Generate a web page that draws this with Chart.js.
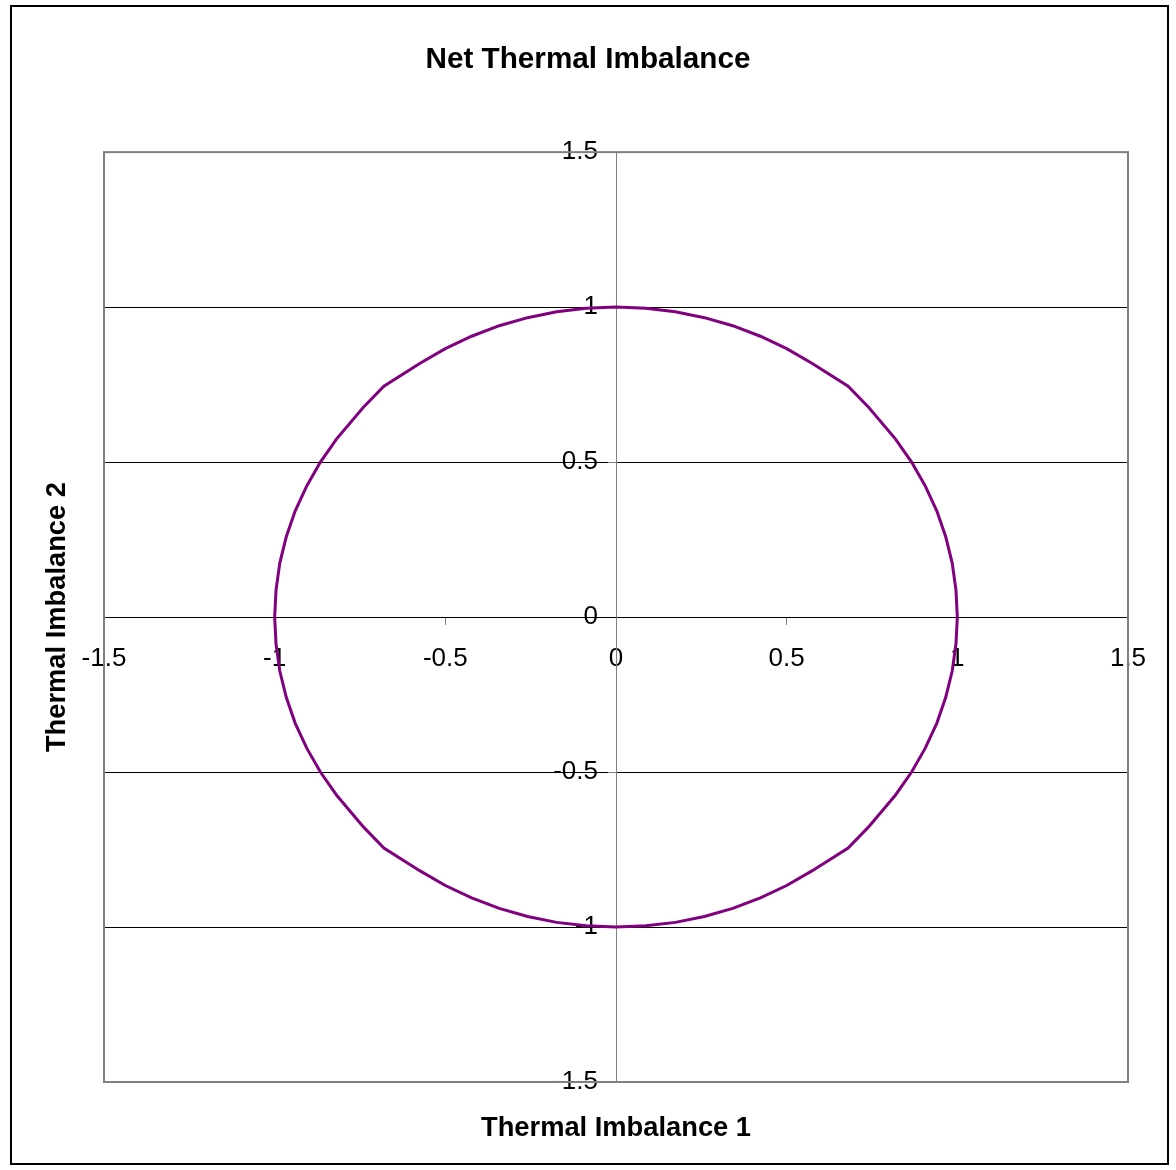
<!DOCTYPE html>
<html>
<head>
<meta charset="utf-8">
<script src="https://cdn.jsdelivr.net/npm/chart.js@4.4.1/dist/chart.umd.min.js"></script>
<style>
  html, body { margin: 0; padding: 0; background: #fff; }
  canvas { display: block; }
</style>
</head>
<body>
<canvas id="chart" width="1176" height="1170"></canvas>
<script>
const TITLE = "Net Thermal Imbalance";
const X_TITLE = "Thermal Imbalance 1";
const Y_TITLE = "Thermal Imbalance 2";

// tick values on both axes
const tickValues = [-1.5, -1, -0.5, 0, 0.5, 1, 1.5];

// points, going clockwise from the top
const xValues = [0, 0.087, 0.174, 0.259, 0.342, 0.423, 0.5, 0.574, 0.68, 0.74, 0.819, 0.866, 0.906, 0.94, 0.966, 0.985, 0.996, 1,
  0.996, 0.985, 0.966, 0.94, 0.906, 0.866, 0.819, 0.74, 0.68, 0.574, 0.5, 0.423, 0.342, 0.259, 0.174, 0.087, 0,
  -0.087, -0.174, -0.259, -0.342, -0.423, -0.5, -0.574, -0.68, -0.74, -0.819, -0.866, -0.906, -0.94, -0.966, -0.985, -0.996, -1,
  -0.996, -0.985, -0.966, -0.94, -0.906, -0.866, -0.819, -0.74, -0.68, -0.574, -0.5, -0.423, -0.342, -0.259, -0.174, -0.087, 0];
const yValues = [1, 0.996, 0.985, 0.966, 0.94, 0.906, 0.866, 0.819, 0.745, 0.677, 0.574, 0.5, 0.423, 0.342, 0.259, 0.174, 0.087, 0,
  -0.087, -0.174, -0.259, -0.342, -0.423, -0.5, -0.574, -0.677, -0.745, -0.819, -0.866, -0.906, -0.94, -0.966, -0.985, -0.996, -1,
  -0.996, -0.985, -0.966, -0.94, -0.906, -0.866, -0.819, -0.745, -0.677, -0.574, -0.5, -0.423, -0.342, -0.259, -0.174, -0.087, 0,
  0.087, 0.174, 0.259, 0.342, 0.423, 0.5, 0.574, 0.677, 0.745, 0.819, 0.866, 0.906, 0.94, 0.966, 0.985, 0.996, 1];

const FONT = "'Liberation Sans', Arial, sans-serif";
const points = xValues.map((x, i) => ({ x: x, y: yValues[i] }));

function setTicks(scale) {
  scale.ticks = tickValues.map(v => ({ value: v }));
}

// plot frame (grey) and outer chart border (black)
const framePlugin = {
  id: "frame",
  beforeDatasetsDraw(chart) {
    const { ctx, chartArea: a } = chart;
    ctx.save();
    ctx.strokeStyle = "#808080";
    ctx.lineWidth = 2;
    ctx.strokeRect(a.left, a.top, a.right - a.left, a.bottom - a.top);
    ctx.restore();
  },
  afterDraw(chart) {
    const ctx = chart.ctx;
    ctx.save();
    ctx.strokeStyle = "#000";
    ctx.lineWidth = 2;
    ctx.strokeRect(11, 6, 1157, 1158);
    ctx.restore();
  }
};

const ctx = document.getElementById("chart").getContext("2d");
new Chart(ctx, {
  type: "scatter",
  data: {
    datasets: [{
      data: points,
      xAxisID: "x",
      yAxisID: "y",
      showLine: true,
      borderColor: "#800080",
      borderWidth: 3,
      pointRadius: 0,
      tension: 0,
      fill: false
    }]
  },
  options: {
    responsive: false,
    animation: false,
    devicePixelRatio: 1,
    layout: { padding: 0 },
    plugins: {
      legend: { display: false },
      tooltip: { enabled: false },
      title: {
        display: true,
        text: TITLE,
        color: "#000",
        font: { family: FONT, size: 29.7, weight: "bold" },
        padding: { top: 42, bottom: 74.5 }
      }
    },
    scales: {
      // both value axes cross in the middle of the plot (at 0, 0)
      x: {
        type: "linear",
        position: "center",
        min: -1.5,
        max: 1.5,
        afterBuildTicks: setTicks,
        grid: { drawOnChartArea: false, color: "#808080", tickLength: 7 },
        border: { color: "#000", width: 1 },
        ticks: { color: "#000", padding: 19, maxRotation: 0, font: { family: FONT, size: 26 }, callback: v => String(v) }
      },
      y: {
        type: "linear",
        position: "center",
        min: -1.5,
        max: 1.5,
        afterBuildTicks: setTicks,
        grid: { color: "#000", lineWidth: 1, tickColor: "#808080", tickLength: 8 },
        border: { color: "#808080", width: 1 },
        ticks: { color: "#000", padding: 10, font: { family: FONT, size: 26 }, callback: v => String(v) }
      },
      // outer axes only hold the axis titles and reserve the margins
      xTitle: {
        axis: "x",
        type: "linear",
        position: "bottom",
        ticks: { display: false },
        grid: { display: false },
        border: { display: false },
        title: { display: true, text: X_TITLE, color: "#000", padding: { top: 0, bottom: 25 }, font: { family: FONT, size: 27.3, weight: "bold" } },
        afterFit: s => { s.height = 88; }
      },
      yTitle: {
        axis: "y",
        type: "linear",
        position: "left",
        ticks: { display: false },
        grid: { display: false },
        border: { display: false },
        title: { display: true, text: Y_TITLE, color: "#000", padding: { top: 41, bottom: 0 }, font: { family: FONT, size: 27.3, weight: "bold" } },
        afterFit: s => { s.width = 104; }
      },
      yRight: {
        axis: "y",
        type: "linear",
        position: "right",
        ticks: { display: false },
        grid: { display: false },
        border: { display: false },
        afterFit: s => { s.width = 48; }
      }
    }
  },
  plugins: [framePlugin]
});
</script>
</body>
</html>
